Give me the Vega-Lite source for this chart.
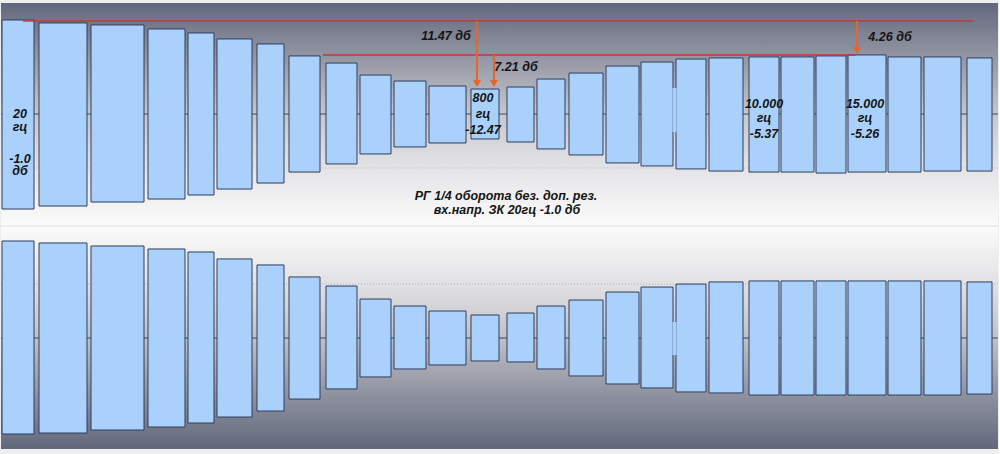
{
  "$schema": "https://vega.github.io/schema/vega-lite/v6.json",
  "background": "#eeeeee",
  "padding": {"left": 0, "top": 3, "right": 0, "bottom": 5},
  "spacing": 2,
  "config": {"view": {"stroke": null}},
  "datasets": {
    "bars": [
      {"ch": "L", "n": 1, "t0": 4, "t1": 36, "max": 0.847, "min": -0.856},
      {"ch": "L", "n": 2, "t0": 41, "t1": 89, "max": 0.820, "min": -0.829},
      {"ch": "L", "n": 3, "t0": 93, "t1": 146, "max": 0.802, "min": -0.793},
      {"ch": "L", "n": 4, "t0": 150, "t1": 187, "max": 0.766, "min": -0.766},
      {"ch": "L", "n": 5, "t0": 190, "t1": 216, "max": 0.730, "min": -0.730},
      {"ch": "L", "n": 6, "t0": 219, "t1": 254, "max": 0.676, "min": -0.676},
      {"ch": "L", "n": 7, "t0": 259, "t1": 286, "max": 0.631, "min": -0.622},
      {"ch": "L", "n": 8, "t0": 291, "t1": 322, "max": 0.523, "min": -0.523},
      {"ch": "L", "n": 9, "t0": 328, "t1": 359, "max": 0.459, "min": -0.450},
      {"ch": "L", "n": 10, "t0": 362, "t1": 393, "max": 0.351, "min": -0.360},
      {"ch": "L", "n": 11, "t0": 396, "t1": 428, "max": 0.297, "min": -0.297},
      {"ch": "L", "n": 12, "t0": 431, "t1": 468, "max": 0.252, "min": -0.261},
      {"ch": "L", "n": 13, "t0": 473, "t1": 501, "max": 0.225, "min": -0.225},
      {"ch": "L", "n": 14, "t0": 509, "t1": 536, "max": 0.243, "min": -0.252},
      {"ch": "L", "n": 15, "t0": 539, "t1": 567, "max": 0.315, "min": -0.315},
      {"ch": "L", "n": 16, "t0": 571, "t1": 605, "max": 0.369, "min": -0.369},
      {"ch": "L", "n": 17, "t0": 608, "t1": 641, "max": 0.432, "min": -0.441},
      {"ch": "L", "n": 18, "t0": 643, "t1": 675, "max": 0.468, "min": -0.468},
      {"ch": "L", "n": 19, "t0": 678, "t1": 708, "max": 0.495, "min": -0.495},
      {"ch": "L", "n": 20, "t0": 711, "t1": 745, "max": 0.505, "min": -0.514},
      {"ch": "L", "n": 21, "t0": 751, "t1": 781, "max": 0.514, "min": -0.523},
      {"ch": "L", "n": 22, "t0": 783, "t1": 816, "max": 0.514, "min": -0.523},
      {"ch": "L", "n": 23, "t0": 818, "t1": 848, "max": 0.523, "min": -0.532},
      {"ch": "L", "n": 24, "t0": 850, "t1": 888, "max": 0.532, "min": -0.523},
      {"ch": "L", "n": 25, "t0": 890, "t1": 923, "max": 0.514, "min": -0.523},
      {"ch": "L", "n": 26, "t0": 926, "t1": 963, "max": 0.514, "min": -0.514},
      {"ch": "L", "n": 27, "t0": 969, "t1": 994, "max": 0.505, "min": -0.514},
      {"ch": "R", "n": 1, "t0": 4, "t1": 36, "max": 0.874, "min": -0.865},
      {"ch": "R", "n": 2, "t0": 41, "t1": 89, "max": 0.856, "min": -0.856},
      {"ch": "R", "n": 3, "t0": 93, "t1": 146, "max": 0.829, "min": -0.829},
      {"ch": "R", "n": 4, "t0": 150, "t1": 187, "max": 0.802, "min": -0.802},
      {"ch": "R", "n": 5, "t0": 190, "t1": 216, "max": 0.775, "min": -0.766},
      {"ch": "R", "n": 6, "t0": 219, "t1": 254, "max": 0.712, "min": -0.712},
      {"ch": "R", "n": 7, "t0": 259, "t1": 286, "max": 0.658, "min": -0.658},
      {"ch": "R", "n": 8, "t0": 291, "t1": 322, "max": 0.550, "min": -0.550},
      {"ch": "R", "n": 9, "t0": 328, "t1": 359, "max": 0.468, "min": -0.459},
      {"ch": "R", "n": 10, "t0": 362, "t1": 393, "max": 0.351, "min": -0.351},
      {"ch": "R", "n": 11, "t0": 396, "t1": 428, "max": 0.288, "min": -0.279},
      {"ch": "R", "n": 12, "t0": 431, "t1": 468, "max": 0.243, "min": -0.243},
      {"ch": "R", "n": 13, "t0": 473, "t1": 501, "max": 0.207, "min": -0.207},
      {"ch": "R", "n": 14, "t0": 509, "t1": 536, "max": 0.225, "min": -0.216},
      {"ch": "R", "n": 15, "t0": 539, "t1": 567, "max": 0.288, "min": -0.279},
      {"ch": "R", "n": 16, "t0": 571, "t1": 605, "max": 0.342, "min": -0.342},
      {"ch": "R", "n": 17, "t0": 608, "t1": 641, "max": 0.414, "min": -0.414},
      {"ch": "R", "n": 18, "t0": 643, "t1": 675, "max": 0.459, "min": -0.450},
      {"ch": "R", "n": 19, "t0": 678, "t1": 708, "max": 0.486, "min": -0.486},
      {"ch": "R", "n": 20, "t0": 711, "t1": 745, "max": 0.505, "min": -0.495},
      {"ch": "R", "n": 21, "t0": 751, "t1": 781, "max": 0.514, "min": -0.514},
      {"ch": "R", "n": 22, "t0": 783, "t1": 816, "max": 0.514, "min": -0.514},
      {"ch": "R", "n": 23, "t0": 818, "t1": 848, "max": 0.514, "min": -0.514},
      {"ch": "R", "n": 24, "t0": 850, "t1": 888, "max": 0.514, "min": -0.514},
      {"ch": "R", "n": 25, "t0": 890, "t1": 923, "max": 0.514, "min": -0.514},
      {"ch": "R", "n": 26, "t0": 926, "t1": 963, "max": 0.514, "min": -0.514},
      {"ch": "R", "n": 27, "t0": 969, "t1": 994, "max": 0.505, "min": -0.505}
    ],
    "joins": [
      {"ch": "L", "t0": 674.5, "t1": 678.5, "max": 0.234, "min": -0.162},
      {"ch": "R", "t0": 674.5, "t1": 678.5, "max": 0.144, "min": -0.153}
    ],
    "refs": [
      {"t0": 25, "t1": 975, "level": 0.838},
      {"t0": 325, "t1": 858, "level": 0.532}
    ],
    "arrows": [
      {"t": 479, "from": 0.838, "to": 0.275},
      {"t": 496, "from": 0.532, "to": 0.275},
      {"t": 859, "from": 0.838, "to": 0.572}
    ],
    "labels": [
      {"x": 22, "y": 0.0, "text": "20"},
      {"x": 22, "y": -0.117, "text": "гц"},
      {"x": 22, "y": -0.405, "text": "-1.0"},
      {"x": 22, "y": -0.515, "text": "дб"},
      {"x": 485, "y": 0.14, "text": "800"},
      {"x": 485, "y": 0.0, "text": "гц"},
      {"x": 485, "y": -0.14, "text": "-12.47"},
      {"x": 766, "y": 0.09, "text": "10.000"},
      {"x": 766, "y": -0.035, "text": "гц"},
      {"x": 766, "y": -0.18, "text": "-5.37"},
      {"x": 867, "y": 0.09, "text": "15.000"},
      {"x": 867, "y": -0.035, "text": "гц"},
      {"x": 867, "y": -0.18, "text": "-5.26"},
      {"x": 448, "y": 0.703, "text": "11.47 дб"},
      {"x": 518, "y": 0.423, "text": "7.21 дб"},
      {"x": 892, "y": 0.694, "text": "4.26 дб"},
      {"x": 508, "y": -0.739, "text": "РГ 1/4 оборота без. доп. рез."},
      {"x": 509, "y": -0.865, "text": "вх.напр. ЗК 20гц -1.0 дб"}
    ]
  },
  "vconcat": [
    {
      "width": 997,
      "height": 222,
      "view": {
        "stroke": null,
        "fill": {
          "gradient": "linear", "x1": 0, "y1": 0, "x2": 0, "y2": 1,
          "stops": [
            {"offset": 0, "color": "#62687c"},
            {"offset": 0.25, "color": "#9597a4"},
            {"offset": 0.5, "color": "#c6c7cd"},
            {"offset": 0.75, "color": "#e4e4e7"},
            {"offset": 1, "color": "#fbfbfb"}
          ]
        }
      },
      "layer": [
        {
          "data": {"values": [{"level": 0}]},
          "mark": {"type": "rule", "color": "#3d4766", "strokeWidth": 1},
          "encoding": {
            "y": {"field": "level", "type": "quantitative", "scale": {"domain": [-1, 1], "nice": false, "zero": false}, "axis": null}
          }
        },
        {
          "data": {"values": [{"level": -0.486}]},
          "mark": {"type": "rule", "color": "#b8b8c0", "strokeWidth": 1, "strokeDash": [1, 2]},
          "encoding": {
            "y": {"field": "level", "type": "quantitative", "scale": {"domain": [-1, 1], "nice": false, "zero": false}, "axis": null}
          }
        },
        {
          "data": {"name": "bars"},
          "transform": [{"filter": "datum.ch === 'L'"}],
          "mark": {"type": "rect", "fill": "#aad1fc", "stroke": "#2f3d5e", "strokeWidth": 1},
          "encoding": {
            "x": {"field": "t0", "type": "quantitative", "scale": {"domain": [3, 1000], "nice": false, "zero": false}, "axis": null},
            "x2": {"field": "t1"},
            "y": {"field": "max", "type": "quantitative", "scale": {"domain": [-1, 1], "nice": false, "zero": false}, "axis": null},
            "y2": {"field": "min"}
          }
        },
        {
          "data": {"name": "joins"},
          "transform": [{"filter": "datum.ch === 'L'"}],
          "mark": {"type": "rect", "fill": "#aad1fc"},
          "encoding": {
            "x": {"field": "t0", "type": "quantitative", "scale": {"domain": [3, 1000], "nice": false, "zero": false}, "axis": null},
            "x2": {"field": "t1"},
            "y": {"field": "max", "type": "quantitative", "scale": {"domain": [-1, 1], "nice": false, "zero": false}, "axis": null},
            "y2": {"field": "min"}
          }
        },
        {
          "data": {"name": "refs"},
          "mark": {"type": "rule", "color": "#c8343a", "strokeWidth": 1.6},
          "encoding": {
            "x": {"field": "t0", "type": "quantitative", "scale": {"domain": [3, 1000], "nice": false, "zero": false}, "axis": null},
            "x2": {"field": "t1"},
            "y": {"field": "level", "type": "quantitative", "scale": {"domain": [-1, 1], "nice": false, "zero": false}, "axis": null}
          }
        },
        {
          "data": {"name": "arrows"},
          "mark": {"type": "rule", "color": "#e8642a", "strokeWidth": 2},
          "encoding": {
            "x": {"field": "t", "type": "quantitative", "scale": {"domain": [3, 1000], "nice": false, "zero": false}, "axis": null},
            "y": {"field": "from", "type": "quantitative", "scale": {"domain": [-1, 1], "nice": false, "zero": false}, "axis": null},
            "y2": {"field": "to"}
          }
        },
        {
          "data": {"name": "arrows"},
          "mark": {"type": "point", "shape": "triangle-down", "filled": true, "color": "#e8642a", "size": 64, "opacity": 1},
          "encoding": {
            "x": {"field": "t", "type": "quantitative", "scale": {"domain": [3, 1000], "nice": false, "zero": false}, "axis": null},
            "y": {"field": "to", "type": "quantitative", "scale": {"domain": [-1, 1], "nice": false, "zero": false}, "axis": null}
          }
        },
        {
          "data": {"name": "labels"},
          "mark": {"type": "text", "font": "Liberation Sans", "fontStyle": "italic", "fontWeight": "bold", "fontSize": 12.5, "color": "#141414", "align": "center", "baseline": "middle"},
          "encoding": {
            "x": {"field": "x", "type": "quantitative", "scale": {"domain": [3, 1000], "nice": false, "zero": false}, "axis": null},
            "y": {"field": "y", "type": "quantitative", "scale": {"domain": [-1, 1], "nice": false, "zero": false}, "axis": null},
            "text": {"field": "text", "type": "nominal"}
          }
        }
      ]
    },
    {
      "width": 997,
      "height": 222,
      "view": {
        "stroke": null,
        "fill": {
          "gradient": "linear", "x1": 0, "y1": 0, "x2": 0, "y2": 1,
          "stops": [
            {"offset": 0, "color": "#fbfbfb"},
            {"offset": 0.25, "color": "#e2e2e5"},
            {"offset": 0.5, "color": "#c0c1c8"},
            {"offset": 0.75, "color": "#8f93a0"},
            {"offset": 1, "color": "#62687c"}
          ]
        }
      },
      "layer": [
        {
          "data": {"values": [{"level": 0}]},
          "mark": {"type": "rule", "color": "#3d4766", "strokeWidth": 1},
          "encoding": {
            "y": {"field": "level", "type": "quantitative", "scale": {"domain": [-1, 1], "nice": false, "zero": false}, "axis": null}
          }
        },
        {
          "data": {"values": [{"level": 0.486}]},
          "mark": {"type": "rule", "color": "#b0b0b8", "strokeWidth": 1, "strokeDash": [1, 2]},
          "encoding": {
            "y": {"field": "level", "type": "quantitative", "scale": {"domain": [-1, 1], "nice": false, "zero": false}, "axis": null}
          }
        },
        {
          "data": {"name": "bars"},
          "transform": [{"filter": "datum.ch === 'R'"}],
          "mark": {"type": "rect", "fill": "#aad1fc", "stroke": "#2f3d5e", "strokeWidth": 1},
          "encoding": {
            "x": {"field": "t0", "type": "quantitative", "scale": {"domain": [3, 1000], "nice": false, "zero": false}, "axis": null},
            "x2": {"field": "t1"},
            "y": {"field": "max", "type": "quantitative", "scale": {"domain": [-1, 1], "nice": false, "zero": false}, "axis": null},
            "y2": {"field": "min"}
          }
        },
        {
          "data": {"name": "joins"},
          "transform": [{"filter": "datum.ch === 'R'"}],
          "mark": {"type": "rect", "fill": "#aad1fc"},
          "encoding": {
            "x": {"field": "t0", "type": "quantitative", "scale": {"domain": [3, 1000], "nice": false, "zero": false}, "axis": null},
            "x2": {"field": "t1"},
            "y": {"field": "max", "type": "quantitative", "scale": {"domain": [-1, 1], "nice": false, "zero": false}, "axis": null},
            "y2": {"field": "min"}
          }
        }
      ]
    }
  ]
}
